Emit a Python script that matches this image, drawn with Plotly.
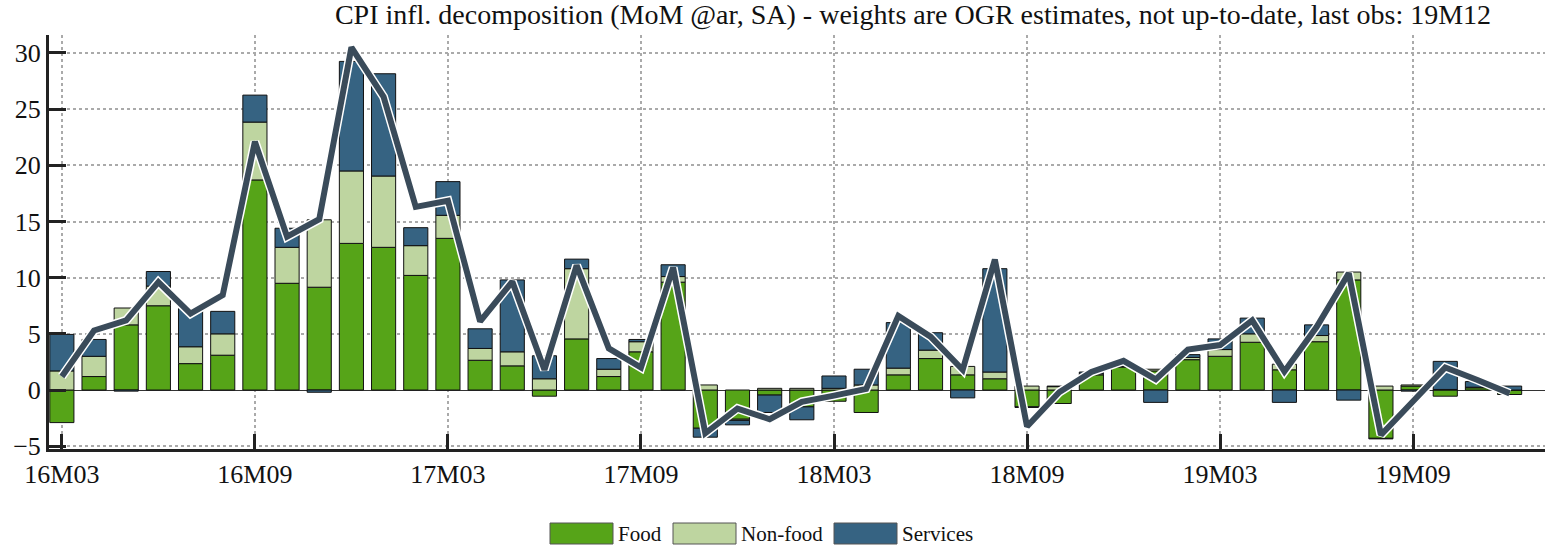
import plotly.graph_objects as go

months = [f"{y}M{m:02d}" for y in (16, 17, 18, 19) for m in range(1, 13)][2:]

food = [-2.9, 1.2, 5.8, 7.5, 2.35, 3.1, 18.7, 9.5, 9.15, 13.05, 12.7, 10.2,
        13.5, 2.65, 2.15, -0.55, 4.55, 1.2, 3.4, 9.6, -3.4, -2.6, -0.45, -1.5,
        -1.0, -2.0, 1.35, 2.8, 1.35, 1.0, -1.5, -1.2, 1.35, 2.05, 1.7, 2.7,
        3.0, 4.25, 1.8, 4.3, 9.8, -4.3, 0.35, -0.55, 0.2, -0.4]
nonfood = [1.7, 1.8, 1.5, 1.75, 1.5, 1.9, 5.15, 3.2, 6.0, 6.45, 6.35, 2.65,
           2.05, 1.05, 1.25, 1.0, 6.25, 0.65, 0.9, 0.5, 0.45, -0.1, 0.15, 0.15,
           0.15, 0.45, 0.6, 0.75, 0.75, 0.6, 0.35, 0.3, 0.1, 0.05, 0.15, 0.2,
           0.6, 0.75, 0.5, 0.55, 0.7, 0.35, 0.1, 0.05, 0.05, 0.0]
services = [3.25, 1.5, -0.1, 1.3, 3.4, 2.0, 2.4, 1.7, -0.2, 9.75, 9.1, 1.6,
            3.0, 1.75, 6.4, 2.05, 0.85, 0.95, 0.2, 1.05, -0.8, -0.4, -1.55, -1.15,
            1.1, 1.4, 4.05, 1.55, -0.7, 9.2, -0.05, 0.05, 0.15, 0.05, -1.1, 0.25,
            0.95, 1.4, -1.1, 0.95, -0.9, -0.05, -0.1, 2.5, 0.5, 0.35]
headline = [1.2, 5.3, 6.2, 9.6, 6.8, 8.45, 22.1, 13.65, 15.2, 30.5, 26.1, 16.3,
            16.85, 6.1, 9.65, 1.8, 11.1, 3.7, 2.0, 10.9, -3.85, -1.65, -2.6, -1.05,
            -0.5, 0.1, 6.6, 4.75, 1.8, 11.6, -3.25, -0.2, 1.6, 2.6, 0.95, 3.6,
            4.0, 6.2, 1.65, 5.6, 10.4, -4.0, -1.0, 2.0, 0.9, -0.3]

tick_labels = ["16M03", "16M09", "17M03", "17M09", "18M03", "18M09", "19M03", "19M09"]

series = [("Food", food, "#56a418"), ("Non-food", nonfood, "#bed5a0"),
          ("Services", services, "#366382")]
LINE = "#3a4b5a"
FONT = "Liberation Serif"

W, H = 1545, 551
ML, MR, MT, MB = 49, 0, 35, 551 - 449
PW, PH = W - ML - MR, H - MT - MB


def px_x(x):
    return (x - ML) / PW


def px_y(y):
    return (H - MB - y) / PH


fig = go.Figure()
for name, vals, col in series:
    fig.add_trace(go.Bar(x=months, y=vals, name=name, marker_color=col,
                         marker_line=dict(color="#111", width=1), showlegend=False))

fig.add_trace(go.Scatter(x=months, y=headline, mode="lines", showlegend=False,
                         line=dict(color="white", width=9), hoverinfo="skip"))
fig.add_trace(go.Scatter(x=months, y=headline, mode="lines", name="Headline", showlegend=False,
                         line=dict(color=LINE, width=6)))

fig.update_xaxes(type="category", range=[-0.4, 46.1], tickvals=tick_labels, ticktext=tick_labels,
                 showgrid=True, gridcolor="#aaaaaa", gridwidth=2, griddash="dot",
                 ticks="inside", ticklen=15, tickwidth=3, tickcolor="#222",
                 showline=True, linecolor="#222", linewidth=3,
                 tickfont=dict(family=FONT, size=26, color="#111"))
fig.update_yaxes(range=[-5.25, 31.6], tickvals=[-5, 0, 5, 10, 15, 20, 25, 30],
                 showgrid=True, gridcolor="#aaaaaa", gridwidth=2, griddash="dot",
                 zeroline=True, zerolinecolor="#333", zerolinewidth=1,
                 ticks="inside", ticklen=17, tickwidth=3, tickcolor="#222",
                 showline=True, linecolor="#222", linewidth=3,
                 tickfont=dict(family=FONT, size=26, color="#111"))

# legend drawn below the plot
legend_items = [("Food", 550, "#56a418"), ("Non-food", 673, "#bed5a0"), ("Services", 834, "#366382")]
for label, x0, col in legend_items:
    fig.add_shape(type="rect", xref="paper", yref="paper",
                  x0=px_x(x0), x1=px_x(x0 + 63), y0=px_y(523), y1=px_y(544),
                  fillcolor=col, line=dict(color="#555", width=1))
    fig.add_annotation(xref="paper", yref="paper", x=px_x(x0 + 66), y=px_y(534),
                       xanchor="left", yanchor="middle", text=label, showarrow=False,
                       font=dict(family=FONT, size=21, color="#111"))

fig.update_layout(
    width=W, height=H,
    barmode="relative", bargap=0.25,
    title=dict(text="CPI infl. decomposition (MoM @ar, SA) - weights are OGR estimates, not up-to-date, last obs: 19M12",
               x=913 / W, xanchor="center", y=1 - 4 / H, yanchor="top",
               font=dict(family=FONT, size=28, color="#111")),
    margin=dict(l=ML, r=MR, t=MT, b=MB),
    plot_bgcolor="white", paper_bgcolor="white",
)

# drop the browser's default 8px body margin so the figure sits at the page corner
fig.write_html("out.html", config={"displayModeBar": False},
               post_script="document.body.style.margin='0px';")
